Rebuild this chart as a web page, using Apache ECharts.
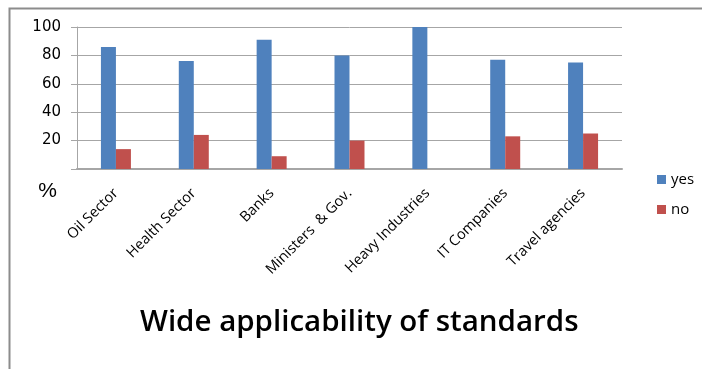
<!DOCTYPE html>
<html>
<head>
<meta charset="utf-8">
<script src="https://cdn.jsdelivr.net/npm/echarts@6/dist/echarts.min.js"></script>
<style>
  html, body { margin: 0; padding: 0; background: #fff; }
  #chart { width: 702px; height: 369px; }
</style>
</head>
<body>
<div id="chart"></div>
<script>
// Sectors surveyed and the share answering yes / no (%)
var categories = ['Oil Sector', 'Health Sector', 'Banks', 'Ministers  & Gov.', 'Heavy Industries', 'IT Companies', 'Travel agencies'];
var yesValues = [86, 76, 91, 80, 100, 77, 75];
var noValues = [14, 24, 9, 20, 0, 23, 25];
var yTicks = [20, 40, 60, 80, 100];

var chart = echarts.init(document.getElementById('chart'));
var textFont = 'Open Sans, sans-serif';

chart.setOption({
  animation: false,
  backgroundColor: '#ffffff',
  title: {
    text: 'Wide applicability of standards',
    left: 135,
    top: 303,
    textStyle: { fontFamily: textFont, fontWeight: 600, fontSize: 29.5, color: '#000' }
  },
  legend: {
    orient: 'vertical',
    left: 652,
    top: 167,
    itemWidth: 9,
    itemHeight: 9,
    itemGap: 15,
    icon: 'rect',
    textStyle: { fontFamily: textFont, fontSize: 15, color: '#000', padding: [0, 0, 0, 0] },
    data: ['yes', 'no']
  },
  grid: { left: 77, right: 80, top: 27, bottom: 200, containLabel: false },
  xAxis: {
    type: 'category',
    data: categories,
    axisLine: { lineStyle: { color: '#a6a6a6', width: 2 } },
    axisTick: { show: false },
    axisLabel: {
      rotate: 45,
      interval: 0,
      margin: 22,
      fontFamily: textFont,
      fontSize: 14.5,
      color: '#000'
    }
  },
  yAxis: {
    type: 'value',
    min: 0,
    max: 100,
    interval: 20,
    name: '%',
    nameLocation: 'start',
    nameGap: 12,
    nameTextStyle: { fontFamily: 'Liberation Sans, sans-serif', fontSize: 21, color: '#000', align: 'right', padding: [0, 20, 0, 0] },
    axisLine: { show: true, lineStyle: { color: '#a6a6a6', width: 1 } },
    axisTick: { show: true, length: 6, lineStyle: { color: '#a6a6a6' } },
    axisLabel: {
      margin: 16,
      fontFamily: 'DejaVu Sans, sans-serif',
      fontSize: 15,
      color: '#000',
      formatter: function (v) { return yTicks.indexOf(v) >= 0 ? String(v) : ''; }
    },
    splitLine: { lineStyle: { color: '#a6a6a6', width: 1 } }
  },
  series: [
    {
      name: 'yes',
      type: 'bar',
      data: yesValues,
      barWidth: 15,
      barGap: '0%',
      itemStyle: { color: '#4f81bd' }
    },
    {
      name: 'no',
      type: 'bar',
      data: noValues,
      barWidth: 15,
      itemStyle: { color: '#c0504d' }
    }
  ],
  graphic: [
    {
      type: 'polyline',
      shape: { points: [[9.5, 369], [9.5, 8.5], [702, 8.5]] },
      style: { stroke: '#8c8c8c', lineWidth: 2, fill: null },
      silent: true
    }
  ]
});
</script>
</body>
</html>
